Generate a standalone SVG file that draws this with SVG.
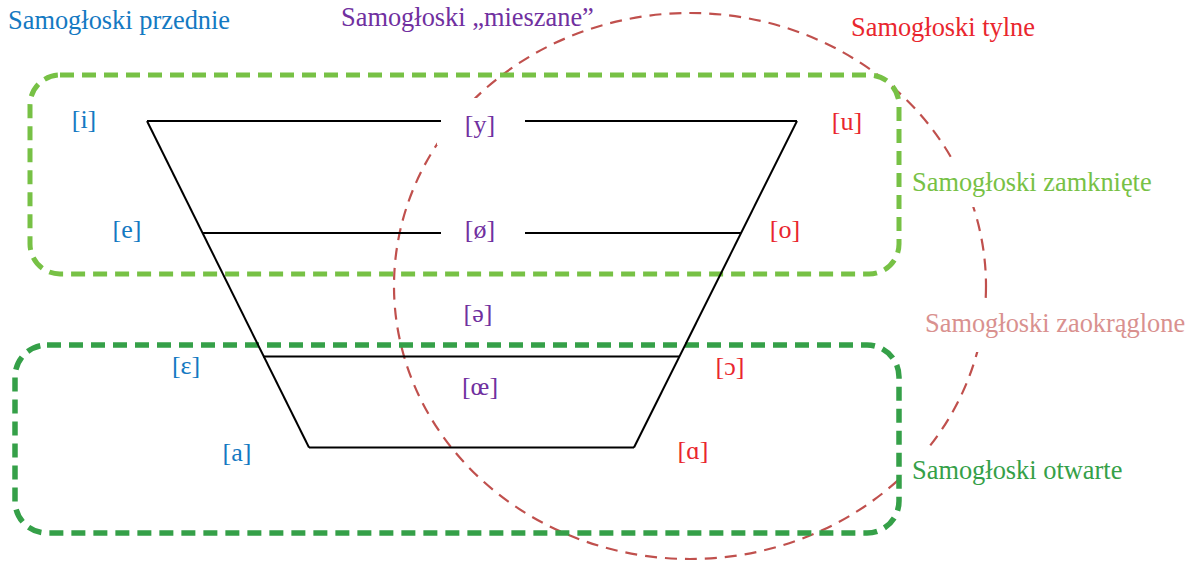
<svg xmlns="http://www.w3.org/2000/svg" width="1196" height="562" viewBox="0 0 1196 562">
<style>
text{font-size:26px}
#titles text{font-size:26.4px}
.v{text-anchor:middle}
.blue{fill:#1479c2}
.purple{fill:#7030a0}
.red{fill:#e9262e}
.lg{fill:#77c145}
.dg{fill:#35a048}
.pink{fill:#d9918f}
.ln{stroke:#000;stroke-width:2;fill:none}
.bg{fill:#fff;stroke:none}
</style>
<rect width="1196" height="562" fill="#fff"/>
<g id="rounded-group">
<ellipse cx="690" cy="286" rx="296" ry="273" fill="none" stroke="#c0504d" stroke-width="2.2" stroke-dasharray="12 8"/>
</g>
<g id="label-backgrounds">
<rect class="bg" x="437" y="98" width="89" height="47"/>
<rect class="bg" x="906" y="159" width="250" height="48"/>
<rect class="bg" x="915" y="300" width="281" height="52"/>
<rect class="bg" x="903" y="447" width="225" height="40"/>
</g>
<g id="closed-group">
<rect x="30" y="75" width="869" height="199" rx="30" ry="30" fill="none" stroke="#77c145" stroke-width="5" stroke-dasharray="14 8"/>
</g>
<g id="open-group">
<rect x="15" y="345" width="884" height="188" rx="32" ry="32" fill="none" stroke="#35a048" stroke-width="5.5" stroke-dasharray="14 8"/>
</g>
<g id="connectors">
<line class="ln" x1="147" y1="121" x2="441" y2="121"/>
<line class="ln" x1="525" y1="121" x2="797" y2="121"/>
<line class="ln" x1="203" y1="233" x2="441" y2="233"/>
<line class="ln" x1="525" y1="233" x2="741" y2="233"/>
<line class="ln" x1="263" y1="356.5" x2="679" y2="356.5"/>
<line class="ln" x1="309" y1="447.5" x2="634" y2="447.5"/>
<line class="ln" x1="147" y1="121" x2="309" y2="447.5"/>
<line class="ln" x1="797" y1="121" x2="634" y2="447.5"/>
</g>
<g font-family="'Liberation Serif', 'Times New Roman', 'DejaVu Serif', serif">
<g id="titles">
<text class="blue" x="8" y="29">Samogłoski przednie</text>
<text class="purple" x="341" y="26">Samogłoski „mieszane”</text>
<text class="red" x="851" y="36">Samogłoski tylne</text>
<text class="lg" x="912" y="191">Samogłoski zamknięte</text>
<text class="pink" x="925" y="332">Samogłoski zaokrąglone</text>
<text class="dg" x="912" y="479">Samogłoski otwarte</text>
</g>
<g id="vowel-i"><text class="v blue" x="84" y="128">[i]</text></g>
<g id="vowel-y"><text class="v purple" x="480" y="133">[y]</text></g>
<g id="vowel-u"><text class="v red" x="847" y="130">[u]</text></g>
<g id="vowel-e"><text class="v blue" x="127" y="238">[e]</text></g>
<g id="vowel-oe-slash"><text class="v purple" x="480" y="238">[ø]</text></g>
<g id="vowel-o"><text class="v red" x="785" y="238">[o]</text></g>
<g id="vowel-schwa"><text class="v purple" x="478" y="322">[ə]</text></g>
<g id="vowel-open-e"><text class="v blue" x="186" y="374">[ɛ]</text></g>
<g id="vowel-open-o"><text class="v red" x="730" y="375">[ɔ]</text></g>
<g id="vowel-oe"><text class="v purple" x="480" y="395">[œ]</text></g>
<g id="vowel-a"><text class="v blue" x="237" y="461">[a]</text></g>
<g id="vowel-script-a"><text class="v red" x="693" y="459">[ɑ]</text></g>
</g>
</svg>
